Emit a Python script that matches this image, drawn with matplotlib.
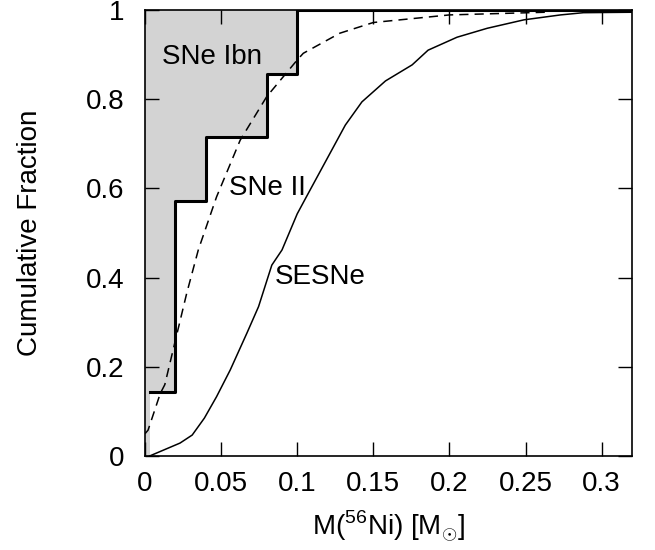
import matplotlib
matplotlib.use('Agg')
import matplotlib.pyplot as plt

plt.rcParams['font.family'] = ['Liberation Sans', 'DejaVu Sans']
plt.rcParams['mathtext.fontset'] = 'custom'
plt.rcParams['mathtext.rm'] = 'Liberation Sans'

# SNe Ibn step CDF (7 objects)
ibn_x = [0.0, 0.003, 0.02, 0.04, 0.08, 0.1, 0.32]
ibn_y = [0.0, 1/7, 4/7, 5/7, 6/7, 1.0, 1.0]

# SNe II (dashed)
ii_x = [0.0, 0.002, 0.01, 0.013, 0.02, 0.0274, 0.035, 0.047, 0.0625, 0.08, 0.1,
        0.104, 0.128, 0.15, 0.2, 0.263, 0.27]
ii_y = [0.05, 0.058, 0.14, 0.16, 0.26, 0.365, 0.462, 0.581, 0.708, 0.806, 0.888,
        0.903, 0.948, 0.972, 0.989, 0.995, 1.0]

# SESNe (solid)
se_x = [0.003, 0.023, 0.031, 0.039, 0.047, 0.056, 0.067, 0.0746, 0.0833, 0.09,
        0.1, 0.106, 0.1316, 0.1425, 0.158, 0.1755, 0.186, 0.205, 0.2248, 0.249,
        0.273, 0.288, 0.32]
se_y = [0.0, 0.029, 0.047, 0.085, 0.133, 0.193, 0.276, 0.335, 0.428, 0.462,
        0.543, 0.581, 0.742, 0.794, 0.841, 0.877, 0.910, 0.939, 0.959, 0.978,
        0.989, 0.994, 0.995]

fig = plt.figure(figsize=(6.55, 5.5), dpi=100)
ax = fig.add_axes([0.2214, 0.1709, 0.7436, 0.8109])

ax.fill_between(ibn_x, ibn_y, 1.0, step='post', color='#d3d3d3', lw=0)
ax.step(ibn_x[1:], ibn_y[1:], where='post', color='black', lw=2.2)
ax.plot(ii_x, ii_y, color='black', lw=1.1, ls=(0, (6, 4)))
ax.plot(se_x, se_y, color='black', lw=1.1)

ax.text(0.0438, 0.895, 'SNe Ibn', fontsize=20, ha='center', va='center')
ax.text(0.0803, 0.601, 'SNe II', fontsize=20, ha='center', va='center')
ax.text(0.115, 0.401, 'SESNe', fontsize=20, ha='center', va='center')

ax.set_xlim(0, 0.32)
ax.set_ylim(0, 1)
ax.set_xticks([0, 0.05, 0.1, 0.15, 0.2, 0.25, 0.3])
ax.set_xticklabels(['0', '0.05', '0.1', '0.15', '0.2', '0.25', '0.3'])
ax.set_yticks([0, 0.2, 0.4, 0.6, 0.8, 1.0])
ax.set_yticklabels(['0', '0.2', '0.4', '0.6', '0.8', '1'])
ax.tick_params(direction='in', top=True, right=True, length=10, width=1,
               labelsize=20)
ax.tick_params(axis='x', pad=11)
ax.tick_params(axis='y', pad=15)
for s in ax.spines.values():
    s.set_linewidth(1.2)

ax.set_xlabel(r'M($^{56}$Ni) [M$_{\odot}$]', fontsize=20, labelpad=8)
ax.set_ylabel('Cumulative Fraction', fontsize=20, labelpad=31)

fig.savefig('out.png', dpi=100)
